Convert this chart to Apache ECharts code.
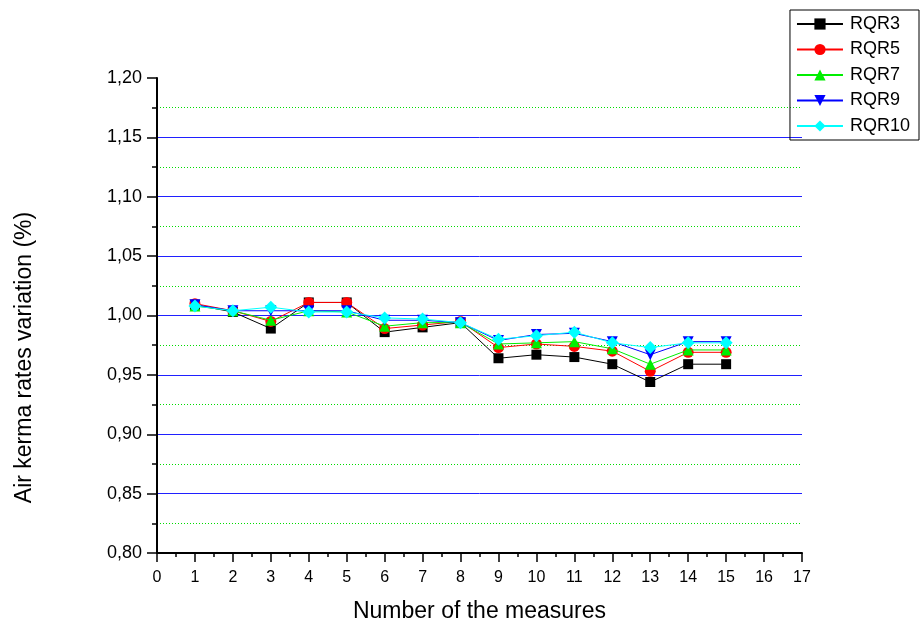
<!DOCTYPE html>
<html><head><meta charset="utf-8">
<script src="https://cdn.jsdelivr.net/npm/echarts@6/dist/echarts.min.js"></script>
<style>html,body{margin:0;padding:0;background:#fff}#c{width:920px;height:625px}</style>
</head><body><div id="c"></div>
<script>
const measures = [1,2,3,4,5,6,7,8,9,10,11,12,13,14,15];
const rqr3  = [1.009,1.003,0.989,1.011,1.011,0.986,0.990,0.994,0.964,0.967,0.965,0.959,0.944,0.959,0.959];
const rqr5  = [1.010,1.004,0.995,1.011,1.011,0.989,0.992,0.995,0.973,0.976,0.974,0.970,0.953,0.969,0.969];
const rqr7  = [1.008,1.004,0.996,1.004,1.003,0.991,0.994,0.994,0.976,0.977,0.978,0.972,0.959,0.971,0.971];
const rqr9  = [1.009,1.004,1.004,1.004,1.004,0.996,0.996,0.994,0.979,0.984,0.985,0.978,0.967,0.978,0.978];
const rqr10 = [1.008,1.004,1.007,1.003,1.003,0.998,0.997,0.994,0.980,0.983,0.986,0.977,0.973,0.977,0.977];
const seriesNames = ['RQR3','RQR5','RQR7','RQR9','RQR10'];
const seriesData = [rqr3, rqr5, rqr7, rqr9, rqr10];
const colors = ['#000000','#ff0000','#00ee00','#0000ff','#00ffff'];
const symbols = ['rect','circle','triangle','triangle','diamond'];
const rotates = [0,0,0,180,0];
const sizes = [10,11,11,11,13];

const chart = echarts.init(document.getElementById('c'));
const font = 'Liberation Sans, Arial, sans-serif';
chart.setOption({
  animation:false,
  grid:{left:157,right:118,top:78,bottom:72,containLabel:false,outerBoundsMode:'none'},
  legend:{
    orient:'vertical', right:1, top:10,
    itemWidth:46, itemHeight:14, itemGap:7.5,
    padding:[5,9,5,6],
    borderColor:'#000', borderWidth:1,
    textStyle:{fontFamily:font,fontSize:18,color:'#000',padding:[0,0,0,2]},
    data: seriesNames
  },
  xAxis:{
    type:'value', min:0, max:17, interval:1,
    name:'Number of the measures', nameLocation:'middle', nameGap:47,
    nameTextStyle:{fontFamily:font,fontSize:23,color:'#000'},
    axisLine:{show:true,onZero:false,lineStyle:{color:'#000',width:2}},
    axisTick:{show:true,inside:false,length:9,lineStyle:{color:'#000',width:1.5}},
    minorTick:{show:true,splitNumber:2,length:4,lineStyle:{color:'#000',width:1.5}},
    axisLabel:{fontFamily:font,fontSize:16,color:'#000',margin:17},
    splitLine:{show:false}
  },
  yAxis:{
    type:'value', min:0.80, max:1.20, interval:0.05,
    name:'Air kerma rates variation (%)', nameLocation:'middle', nameGap:121, nameRotate:90,
    nameTextStyle:{fontFamily:font,fontSize:23,color:'#000',padding:[0,84,0,0]},
    axisLine:{show:true,onZero:false,lineStyle:{color:'#000',width:2}},
    axisTick:{show:true,inside:false,length:10,lineStyle:{color:'#000',width:1.5}},
    minorTick:{show:true,splitNumber:2,length:5,lineStyle:{color:'#000',width:1.5}},
    axisLabel:{fontFamily:font,fontSize:18,color:'#000',margin:15,
      formatter:v=>v.toFixed(2).replace('.',',')},
    splitLine:{show:true,showMinLine:false,showMaxLine:false,lineStyle:{color:'#2020ff',width:1}},
    minorSplitLine:{show:true,lineStyle:{color:'#00dd00',width:1,type:[1,2]}}
  },
  series: seriesNames.map((n,i)=>({
    name:n, type:'line',
    data: measures.map((m,j)=>[m, seriesData[i][j]]),
    symbol:symbols[i], symbolSize:sizes[i], symbolRotate:rotates[i],
    showAllSymbol:true,
    lineStyle:{color:colors[i],width:1},
    itemStyle:{color:colors[i]},
    z: 2+i
  }))
});
</script></body></html>
